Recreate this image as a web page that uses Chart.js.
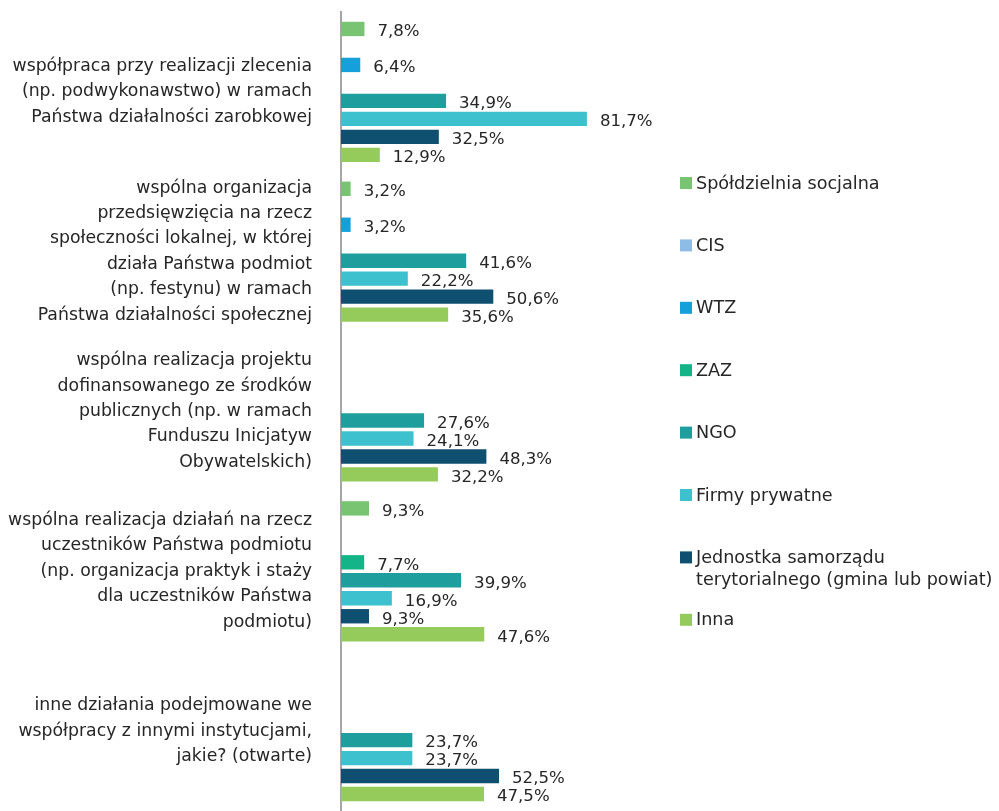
<!DOCTYPE html>
<html>
<head>
<meta charset="utf-8">
<script src="https://cdn.jsdelivr.net/npm/chart.js@4/dist/chart.umd.min.js"></script>
<style>
    html, body { margin: 0; padding: 0; background: #fff; overflow: hidden; }
    #wrap { width: 999px; height: 811px; }
</style>
</head>
<body>
<div id="wrap"><canvas id="chart" width="999" height="811"></canvas></div>
<script>
// Categories (y axis labels, multi-line)
var categories = [
    ['współpraca przy realizacji zlecenia', '(np. podwykonawstwo) w ramach', 'Państwa działalności zarobkowej'],
    ['wspólna organizacja', 'przedsięwzięcia na rzecz', 'społeczności lokalnej, w której', 'działa Państwa podmiot', '(np. festynu) w ramach', 'Państwa działalności społecznej'],
    ['wspólna realizacja projektu', 'dofinansowanego ze środków', 'publicznych (np. w ramach', 'Funduszu Inicjatyw', 'Obywatelskich)'],
    ['wspólna realizacja działań na rzecz', 'uczestników Państwa podmiotu', '(np. organizacja praktyk i staży', 'dla uczestników Państwa', 'podmiotu)'],
    ['inne działania podejmowane we', 'współpracy z innymi instytucjami,', 'jakie? (otwarte)']
];

// Series names
var seriesNames = ['Spółdzielnia socjalna', 'CIS', 'WTZ', 'ZAZ', 'NGO', 'Firmy prywatne', 'Jednostka samorządu terytorialnego (gmina lub powiat)', 'Inna'];
var legendLines = [['Spółdzielnia socjalna'], ['CIS'], ['WTZ'], ['ZAZ'], ['NGO'], ['Firmy prywatne'], ['Jednostka samorządu', 'terytorialnego (gmina lub powiat)'], ['Inna']];

// Values (%), null = no bar
var spoldzielnia = [7.8, 3.2, null, 9.3, null];
var cis = [null, null, null, null, null];
var wtz = [6.4, 3.2, null, null, null];
var zaz = [null, null, null, 7.7, null];
var ngo = [34.9, 41.6, 27.6, 39.9, 23.7];
var firmy = [81.7, 22.2, 24.1, 16.9, 23.7];
var jst = [32.5, 50.6, 48.3, 9.3, 52.5];
var inna = [12.9, 35.6, 32.2, 47.6, 47.5];

var colors = ['#78C472', '#8DBDE6', '#159FDB', '#14B489', '#1F9E9E', '#3EC1CF', '#0F4F6F', '#95CB5A'];
var seriesData = [spoldzielnia, cis, wtz, zaz, ngo, firmy, jst, inna];

var FONT = '"DejaVu Sans", Verdana, sans-serif';
var TEXT = '#262626';

/**
 * Value labels at bar ends
 */
var valueLabels = {
    id: 'valueLabels',
    afterDatasetsDraw: function (chart) {
        var ctx = chart.ctx;
        ctx.save();
        ctx.font = '16.6px ' + FONT;
        ctx.fillStyle = TEXT;
        ctx.textAlign = 'left';
        ctx.textBaseline = 'middle';
        chart.data.datasets.forEach(function (ds, i) {
            var meta = chart.getDatasetMeta(i);
            meta.data.forEach(function (el, j) {
                var v = ds.data[j];
                if (v === null || v === undefined) return;
                ctx.fillText(v.toFixed(1).replace('.', ',') + '%', el.x + 13, el.y + 3);
            });
        });
        ctx.restore();
    }
};

/**
 * Legend on the right
 */
var sideLegend = {
    id: 'sideLegend',
    afterDraw: function (chart) {
        var ctx = chart.ctx;
        ctx.save();
        ctx.font = '17.6px ' + FONT;
        ctx.textBaseline = 'middle';
        ctx.textAlign = 'left';
        chart.data.datasets.forEach(function (ds, i) {
            var y = 183 + i * 62.4;
            ctx.fillStyle = ds.backgroundColor;
            ctx.fillRect(680, y - 6, 12, 12);
            ctx.fillStyle = TEXT;
            legendLines[i].forEach(function (line, k) {
                ctx.fillText(line, 696, y + 1 + k * 22);
            });
        });
        ctx.restore();
    }
};

var chart = new Chart(document.getElementById('chart').getContext('2d'), {
    type: 'bar',
    data: {
        labels: categories,
        datasets: seriesNames.map(function (name, i) {
            return {
                label: name,
                data: seriesData[i],
                backgroundColor: colors[i],
                borderWidth: 0,
                barPercentage: 0.8,
                categoryPercentage: 0.9
            };
        })
    },
    options: {
        indexAxis: 'y',
        responsive: false,
        animation: false,
        layout: {
            padding: { top: 12, right: 357, bottom: 0, left: 0 }
        },
        plugins: {
            legend: { display: false },
            tooltip: { enabled: false }
        },
        scales: {
            x: {
                display: false,
                min: 0,
                max: 100
            },
            y: {
                grid: { display: false },
                border: { display: true, color: '#A6A6A6', width: 2 },
                ticks: {
                    color: TEXT,
                    font: { family: FONT, size: 17.3, lineHeight: 1.47 },
                    padding: 21,
                    autoSkip: false
                },
                afterFit: function (scale) {
                    scale.width = 341;
                    scale.paddingTop = 0;
                    scale.paddingBottom = 0;
                }
            }
        }
    },
    plugins: [valueLabels, sideLegend]
});
</script>
</body>
</html>
